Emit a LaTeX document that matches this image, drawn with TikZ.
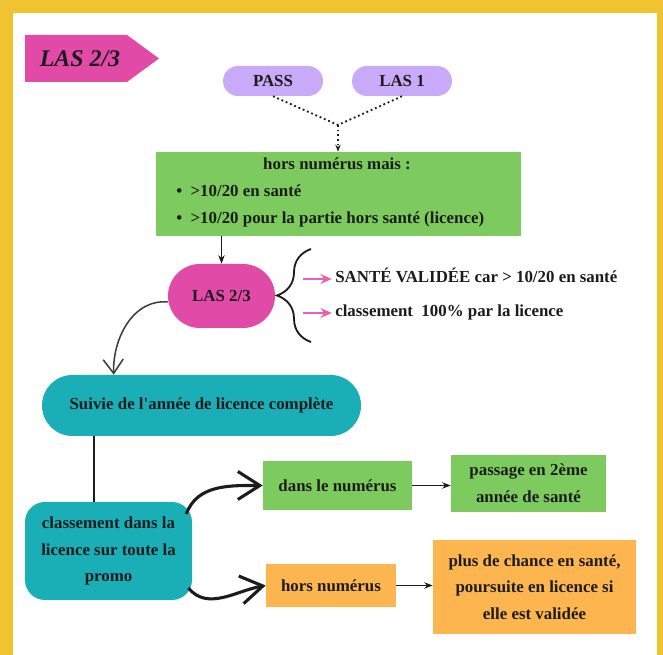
\documentclass[tikz,border=0pt]{standalone}
\usepackage{fontspec}
\setmainfont{Liberation Serif}
\usetikzlibrary{positioning, arrows.meta, decorations.pathreplacing}

\definecolor{jaune}{HTML}{F0C330}
\definecolor{rose}{HTML}{E24AA7}
\definecolor{roseclair}{HTML}{EC5DB3}
\definecolor{lilas}{HTML}{C9AAF8}
\definecolor{vert}{HTML}{7DCB5F}
\definecolor{turquoise}{HTML}{1AAEB7}
\definecolor{orange}{HTML}{FDB64F}
\definecolor{encre}{HTML}{1C1C1C}

\begin{document}
\begin{tikzpicture}[
	texte/.style={font=\fontsize{12}{19}\selectfont\bfseries, text=encre, inner sep=0pt},
	boite/.style={texte, align=center},
	pilule/.style={boite, rounded corners=#1},
	pointille/.style={dotted, line width=1.3pt, encre},
	fleche/.style={-{Stealth[length=6pt]}, line width=1.1pt, encre},
	flecherose/.style={-{Stealth[length=8pt, width=7pt]}, line width=2pt, roseclair},
	grossefleche/.style={-{Straight Barb[length=0.55cm, width=0.7cm, line width=2.2pt]}, line width=2.2pt, encre}
	]
	% Cadre jaune
	\fill[jaune] (0,0) rectangle (16.575,16.375);
	\fill[white] (0.325,0) rectangle (16.425,16.05);
	
	% Étiquette en haut à gauche
	\fill[rose] (0.625,15.5) -- (3.175,15.5) -- (3.975,14.9125) -- (3.175,14.325) -- (0.625,14.325) -- cycle;
	\node[font=\fontsize{17}{20}\selectfont\bfseries\itshape, text=encre] (etiquette) at (2.0,14.91) {LAS 2/3};
	
	% Origines
	\node[pilule=0.375cm, fill=lilas, minimum width=2.5cm, minimum height=0.75cm] (pass) at (6.825,14.35) {PASS};
	\node[pilule=0.375cm, fill=lilas, minimum width=2.5cm, minimum height=0.75cm] (las1) at (10.05,14.35) {LAS 1};
	\coordinate (jonction) at (8.45,13.25);
	
	% Conditions
	\node[boite, fill=vert, minimum width=9.125cm, minimum height=2.1cm] (criteres) at (8.4625,11.525) {};
	\node[texte, anchor=mid] (titre) at (8.425,12.225) {hors numérus mais :};
	\node[texte, anchor=mid west] (puce1) at (4.4,11.55) {\textbullet\enspace >10/20 en santé};
	\node[texte, anchor=mid west] (puce2) at (4.4,10.875) {\textbullet\enspace >10/20 pour la partie hors santé (licence)};
	
	\draw[pointille] (pass.south) -- (jonction);
	\draw[pointille] (las1.south) -- (jonction);
	\draw[pointille, -{Stealth[length=5pt]}] (jonction) -- (jonction |- criteres.north);
	
	% LAS 2/3
	\node[pilule=0.8cm, fill=rose, minimum width=2.675cm, minimum height=1.6cm] (las23) at (5.5375,8.975) {LAS 2/3};
	\draw[fleche] (las23.north |- criteres.south) -- (las23.north);
	
	% Accolade et remarques
	\coordinate (acc bas) at (7.775,7.825);
	\coordinate (acc haut) at (7.775,10.15);
	\draw[decorate, decoration={brace, amplitude=0.85cm}, line width=1.3pt, encre] (acc bas) -- (acc haut);
	\node[texte, anchor=mid west] (validee) at (8.375,9.4) {SANTÉ VALIDÉE car > 10/20 en santé};
	\node[texte, anchor=mid west] (classe100) at (8.375,8.55) {classement\ \ 100\% par la licence};
	\coordinate (r1) at (7.575,9.4);
	\coordinate (r2) at (7.575,8.55);
	\draw[flecherose] (r1) -- ([xshift=-0.08cm]validee.mid west);
	\draw[flecherose] (r2) -- ([xshift=-0.08cm]classe100.mid west);
	
	% Suivie de la licence
	\node[pilule=0.76cm, fill=turquoise, minimum width=7.975cm, minimum height=1.525cm] (suivie) at (5.0375,6.2375) {Suivie de l\textquotesingle année de licence complète};
	\draw[-{Straight Barb[length=0.35cm, width=0.5cm]}, line width=1.1pt, encre!85] ([yshift=-0.15cm]las23.west) to[out=175, in=92] ([xshift=1.8cm]suivie.north west);
	
	% Classement
	\node[pilule=0.5cm, fill=turquoise, minimum width=4.175cm, minimum height=2.45cm] (classement) at (2.7125,2.6) {classement dans la\\licence sur toute la\\promo};
	\draw[line width=1.3pt, encre] ([xshift=1.3cm]suivie.south west) -- ([xshift=1.3cm]suivie.south west |- classement.north);
	
	% Issues
	\node[boite, fill=vert, minimum width=3.725cm, minimum height=1.225cm] (dans) at (8.4375,4.2375) {dans le numérus};
	\node[boite, fill=vert, minimum width=3.875cm, minimum height=1.425cm] (passage) at (13.2125,4.2875) {passage en 2ème\\année de santé};
	\node[boite, fill=orange, minimum width=3.25cm, minimum height=1.075cm] (hors) at (8.275,1.7375) {hors numérus};
	\node[boite, fill=orange, minimum width=5.075cm, minimum height=2.35cm] (plus) at (13.3625,1.7) {plus de chance en santé,\\poursuite en licence si\\elle est validée};
	
	\draw[grossefleche] ([shift={(-0.15,0.925)}]classement.east) to[out=70, in=180] (dans.west);
	\draw[grossefleche] ([shift={(-0.1,-0.925)}]classement.east) to[out=-50, in=190] (hors.west);
	\draw[fleche] (dans.east) -- (dans.east -| passage.west);
	\draw[fleche] (hors.east) -- (hors.east -| plus.west);
\end{tikzpicture}
\end{document}
